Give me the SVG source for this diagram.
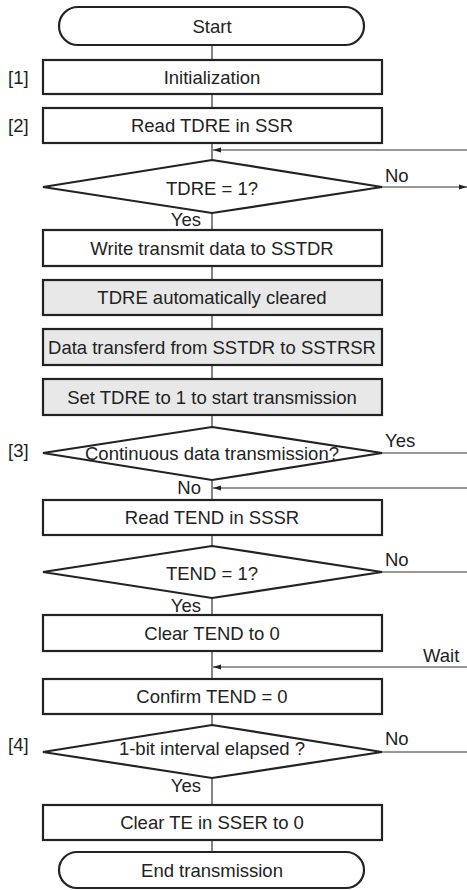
<svg xmlns="http://www.w3.org/2000/svg" width="467" height="890" viewBox="0 0 467 890">
<style>
text{font-family:"Liberation Sans",Arial,sans-serif;font-size:18.5px;fill:#222}
.c{text-anchor:middle}
.e{text-anchor:end}
.box{fill:#fff;stroke:#222;stroke-width:2.2}
.gray{fill:#e8e8e8;stroke:#222;stroke-width:2.2}
.dia{fill:#fff;stroke:#222;stroke-width:2.2}
.ln{fill:none;stroke:#333;stroke-width:1.2}
</style>
<defs>
<marker id="ah" markerUnits="userSpaceOnUse" markerWidth="8" markerHeight="6" refX="8" refY="3" orient="auto">
<path d="M0,0.6 L8,3 L0,5.4 z" fill="#222"/>
</marker>
</defs>
<g id="connectors">
<line class="ln" x1="212" y1="45" x2="212" y2="852"/>
<line class="ln" x1="467" y1="150" x2="213" y2="150" marker-end="url(#ah)"/>
<line class="ln" x1="382" y1="187" x2="467" y2="187" marker-end="url(#ah)"/>
<line class="ln" x1="382" y1="453" x2="467" y2="453"/>
<line class="ln" x1="467" y1="488" x2="213" y2="488" marker-end="url(#ah)"/>
<line class="ln" x1="382" y1="572" x2="467" y2="572"/>
<line class="ln" x1="467" y1="667" x2="213" y2="667" marker-end="url(#ah)"/>
<line class="ln" x1="382" y1="752" x2="467" y2="752"/>
</g>
<g id="start">
<rect class="box" x="59" y="7" width="305" height="38" rx="19" ry="19"/>
<text class="c" x="212" y="32.5">Start</text>
</g>
<g id="init">
<rect class="box" x="43" y="60" width="339" height="34"/>
<text class="c" x="212" y="83.5">Initialization</text>
<text x="8" y="83.5">[1]</text>
</g>
<g id="readTDRE">
<rect class="box" x="43" y="108" width="339" height="35"/>
<text class="c" x="212" y="132">Read TDRE in SSR</text>
<text x="8" y="132">[2]</text>
</g>
<g id="tdreCheck">
<polygon class="dia" points="212,160 382,187 212,213 43,187"/>
<text class="c" x="212" y="194.5">TDRE = 1?</text>
<text x="385" y="182">No</text>
<text class="e" x="201" y="226">Yes</text>
</g>
<g id="write">
<rect class="box" x="43" y="230" width="339" height="36"/>
<text class="c" x="212" y="254.5">Write transmit data to SSTDR</text>
</g>
<g id="autoClear">
<rect class="gray" x="43" y="280" width="339" height="35"/>
<text class="c" x="212" y="304">TDRE automatically cleared</text>
</g>
<g id="transfer">
<rect class="gray" x="43" y="329" width="339" height="36"/>
<text class="c" x="212" y="353.5">Data transferd from SSTDR to SSTRSR</text>
</g>
<g id="setTDRE">
<rect class="gray" x="43" y="379" width="339" height="36"/>
<text class="c" x="212" y="403.5">Set TDRE to 1 to start transmission</text>
</g>
<g id="continuous">
<polygon class="dia" points="212,427 382,453 212,480 43,453"/>
<text class="c" x="212" y="460">Continuous data transmission?</text>
<text x="8" y="457">[3]</text>
<text x="385" y="447">Yes</text>
<text class="e" x="201" y="494">No</text>
</g>
<g id="readTEND">
<rect class="box" x="43" y="500" width="339" height="35"/>
<text class="c" x="212" y="524">Read TEND in SSSR</text>
</g>
<g id="tendCheck">
<polygon class="dia" points="212,546 382,572 212,598 43,572"/>
<text class="c" x="212" y="580">TEND = 1?</text>
<text x="385" y="566">No</text>
<text class="e" x="201" y="612">Yes</text>
</g>
<g id="clearTEND">
<rect class="box" x="43" y="615" width="339" height="36"/>
<text class="c" x="212" y="639.5">Clear TEND to 0</text>
<text x="423" y="662">Wait</text>
</g>
<g id="confirm">
<rect class="box" x="43" y="679" width="339" height="35"/>
<text class="c" x="212" y="703">Confirm TEND = 0</text>
</g>
<g id="interval">
<polygon class="dia" points="212,725 382,752 212,778 43,752"/>
<text class="c" x="212" y="755">1-bit interval elapsed ?</text>
<text x="8" y="751">[4]</text>
<text x="385" y="745">No</text>
<text class="e" x="201" y="792">Yes</text>
</g>
<g id="clearTE">
<rect class="box" x="43" y="805" width="339" height="35"/>
<text class="c" x="212" y="829">Clear TE in SSER to 0</text>
</g>
<g id="end">
<rect class="box" x="59" y="852" width="305" height="36" rx="18" ry="18"/>
<text class="c" x="212" y="876.5">End transmission</text>
</g>
</svg>
